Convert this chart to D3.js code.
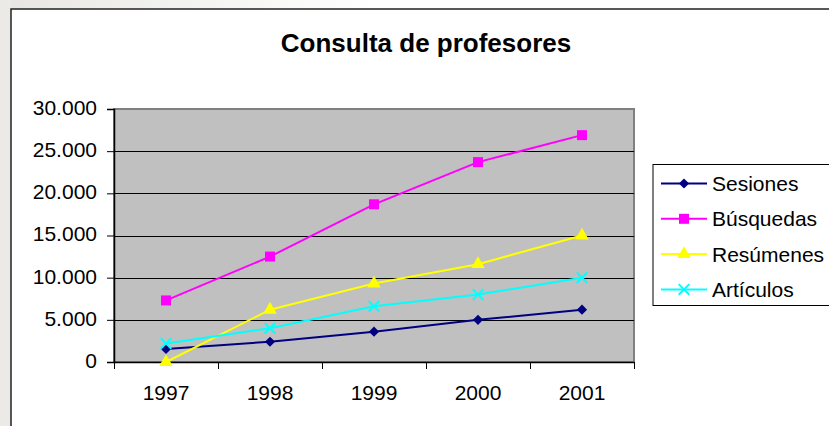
<!DOCTYPE html>
<meta charset="utf-8">
<script src="https://cdn.jsdelivr.net/npm/d3@7"></script>
<style>
body { margin: 0; background: #fff; }
text { font-family: "Liberation Sans", Arial, sans-serif; fill: #000; }
.grid line { stroke: #000; stroke-width: 1px; }
.serie { fill: none; stroke-width: 2px; }
</style>
<body>
<script>
// datos
var years = ["1997", "1998", "1999", "2000", "2001"];
var sesiones = [1550, 2400, 3600, 5000, 6200];
var busquedas = [7300, 12500, 18700, 23700, 26900];
var resumenes = [0, 6200, 9300, 11600, 15000];
var articulos = [2200, 4000, 6600, 8000, 10000];
var seriesNames = ["Sesiones", "Búsquedas", "Resúmenes", "Artículos"];
var yTicks = [0, 5000, 10000, 15000, 20000, 25000, 30000];

var width = 829, height = 426;
var plot = {left: 114, top: 109, right: 634, bottom: 362};

var series = [
  {name: seriesNames[0], values: sesiones, color: "#000080", symbol: d3.symbolSquare, size: 52, rot: 45},
  {name: seriesNames[1], values: busquedas, color: "#ff00ff", symbol: d3.symbolSquare, size: 100, rot: 0},
  {name: seriesNames[2], values: resumenes, color: "#ffff00", symbol: d3.symbolTriangle, size: 80, rot: 0},
  {name: seriesNames[3], values: articulos, color: "#00ffff", symbol: d3.symbolX, size: 75, rot: 0}
];

var svg = d3.select("body").append("svg")
    .attr("width", width)
    .attr("height", height);

// fondo exterior con degradado
var defs = svg.append("defs");
var grad = defs.append("linearGradient").attr("id", "bg")
    .attr("x1", "0").attr("y1", "0").attr("x2", "0.45").attr("y2", "0");
grad.append("stop").attr("offset", "0").attr("stop-color", "#e7e6e2");
grad.append("stop").attr("offset", "1").attr("stop-color", "#ffffff");
svg.append("rect").attr("width", width).attr("height", height).attr("fill", "url(#bg)");
svg.append("rect").attr("width", 11).attr("height", height).attr("fill", "#ebeae6");

// area del grafico
svg.append("rect")
    .attr("x", 11).attr("y", 9)
    .attr("width", width).attr("height", height)
    .attr("fill", "#fff")
    .attr("stroke", "#222")
    .attr("stroke-width", 1.5);

var x = d3.scaleBand().domain(years).range([plot.left, plot.right]);
var y = d3.scaleLinear().domain([0, 30000]).range([plot.bottom, plot.top]);

svg.append("rect")
    .attr("x", plot.left).attr("y", plot.top)
    .attr("width", plot.right - plot.left).attr("height", plot.bottom - plot.top)
    .attr("fill", "#c0c0c0")
    .attr("stroke", "#808080")
    .attr("stroke-width", 2);

svg.append("g").attr("class", "grid")
  .selectAll("line")
  .data(yTicks.slice(1, -1))
  .enter().append("line")
    .attr("x1", plot.left).attr("x2", plot.right)
    .attr("y1", function(d) { return Math.round(y(d)) + 0.5; })
    .attr("y2", function(d) { return Math.round(y(d)) + 0.5; });

var loc = d3.formatLocale({decimal: ",", thousands: ".", grouping: [3], currency: ["", ""]});
var fmt = loc.format(",");

var yAxis = svg.append("g")
    .attr("transform", "translate(" + plot.left + ",0)")
    .call(d3.axisLeft(y).tickValues(yTicks).tickFormat(fmt).tickSize(7).tickPadding(10));
yAxis.select(".domain").attr("stroke", "#000").attr("stroke-width", 1.5);
yAxis.selectAll("text").attr("font-size", 21).attr("dy", "0.26em")
    .attr("font-family", "Liberation Sans, Arial, sans-serif");

var xAxis = svg.append("g")
    .attr("transform", "translate(0," + plot.bottom + ")")
    .call(d3.axisBottom(x).tickSize(0).tickPadding(23));
xAxis.select(".domain").attr("stroke", "#000").attr("stroke-width", 1.5);
xAxis.selectAll("text").attr("font-size", 21)
    .attr("font-family", "Liberation Sans, Arial, sans-serif");

// marcas entre categorias
var bounds = years.map(function(d) { return x(d); }).concat([x(years[years.length - 1]) + x.bandwidth()]);
svg.append("g").selectAll("line")
  .data(bounds)
  .enter().append("line")
    .attr("x1", function(d) { return Math.round(d) + 0.5; })
    .attr("x2", function(d) { return Math.round(d) + 0.5; })
    .attr("y1", plot.bottom).attr("y2", plot.bottom + 7)
    .attr("stroke", "#000");

var line = d3.line()
    .x(function(d, i) { return x(years[i]) + x.bandwidth() / 2; })
    .y(function(d) { return y(d); });

series.forEach(function(s) {
  var g = svg.append("g");
  g.append("path").attr("class", "serie")
      .attr("d", line(s.values))
      .attr("stroke", s.color);
  g.selectAll("path.m")
    .data(s.values)
    .enter().append("path")
      .attr("class", "m")
      .attr("d", d3.symbol().type(s.symbol).size(s.size))
      .attr("transform", function(d, i) {
        return "translate(" + (x(years[i]) + x.bandwidth() / 2) + "," + y(d) + ")rotate(" + s.rot + ")";
      })
      .attr("fill", s.symbol === d3.symbolX ? "none" : s.color)
      .attr("stroke", s.color)
      .attr("stroke-width", s.symbol === d3.symbolX ? 2 : 0);
});

// titulo
svg.append("text")
    .attr("x", 426).attr("y", 52)
    .attr("text-anchor", "middle")
    .attr("font-size", 26)
    .attr("font-weight", "bold")
    .text("Consulta de profesores");

// leyenda
var legend = svg.append("g");
legend.append("rect")
    .attr("x", 653).attr("y", 164.5)
    .attr("width", 200).attr("height", 141)
    .attr("fill", "#fff").attr("stroke", "#000").attr("stroke-width", 1);

var item = legend.selectAll("g.item")
  .data(series)
  .enter().append("g")
    .attr("class", "item")
    .attr("transform", function(d, i) { return "translate(0," + (183.5 + i * 35.3) + ")"; });
item.append("line")
    .attr("x1", 661).attr("x2", 707)
    .attr("stroke", function(d) { return d.color; })
    .attr("stroke-width", 2);
item.append("path")
    .attr("d", function(d) { return d3.symbol().type(d.symbol).size(d.size)(); })
    .attr("transform", function(d) { return "translate(684,0)rotate(" + d.rot + ")"; })
    .attr("fill", function(d) { return d.symbol === d3.symbolX ? "none" : d.color; })
    .attr("stroke", function(d) { return d.color; })
    .attr("stroke-width", function(d) { return d.symbol === d3.symbolX ? 2 : 0; });
item.append("text")
    .attr("x", 712)
    .attr("dy", "0.36em")
    .attr("font-size", 21)
    .text(function(d) { return d.name; });
</script>
</body>
</html>
